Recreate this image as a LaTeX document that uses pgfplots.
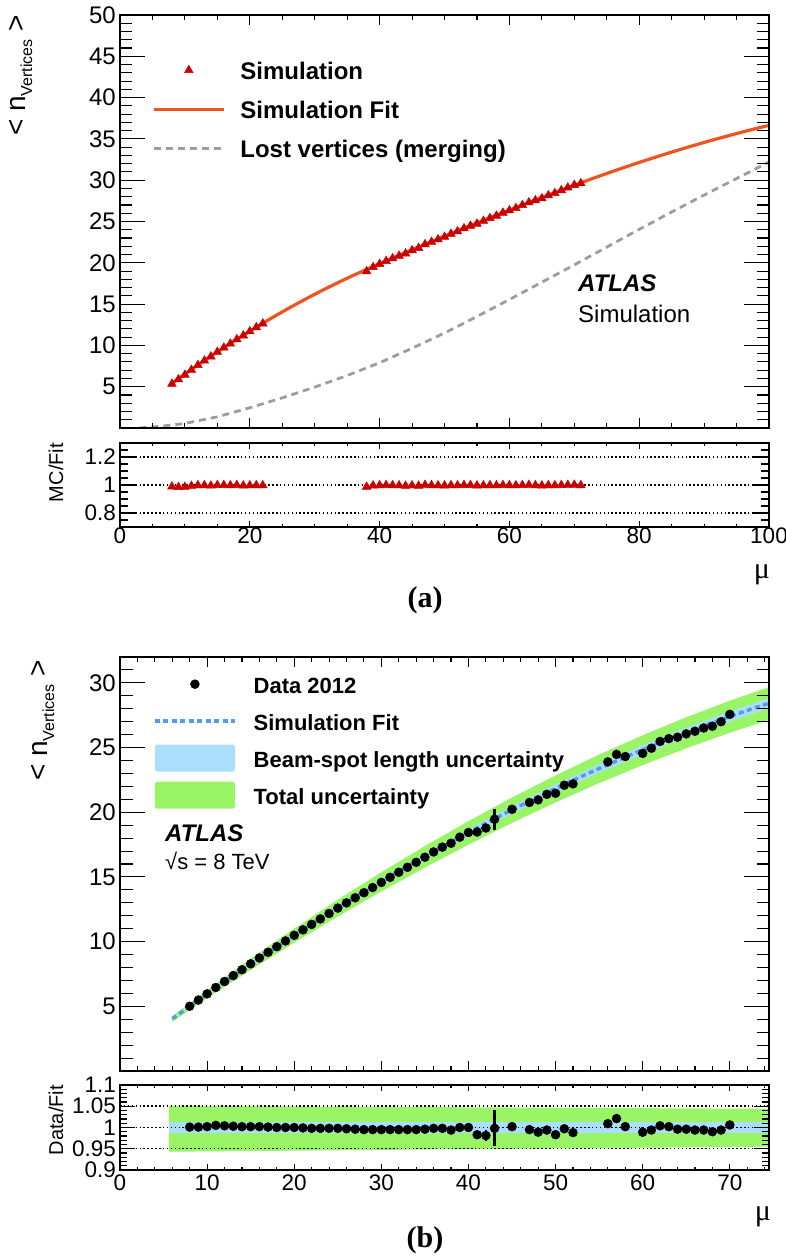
\documentclass[border=0pt]{standalone}
\usepackage{pgfplots}
\pgfplotsset{compat=1.18}
\usepackage{fontspec}
\setmainfont{Liberation Sans}
\newfontfamily\seriffont{Liberation Serif}
\definecolor{simred}{RGB}{204,0,0}
\definecolor{fitorange}{RGB}{240,84,30}
\definecolor{lostgray}{RGB}{150,160,160}
\definecolor{bandgreen}{RGB}{153,245,102}
\definecolor{bandblue}{RGB}{170,222,250}
\definecolor{fitblue}{RGB}{85,155,230}
\newcommand\fs[1]{\fontsize{#1}{#1}\selectfont}
\pgfplotsset{
  rootax/.style={
    scale only axis, axis on top,
    axis line style={line width=1.6pt},
    tick style={line width=1.1pt, black},
    tick align=inside,
    /pgf/number format/assume math mode=true,
    tick label style={inner sep=0pt},
    xticklabel style={anchor=north},
    yticklabel style={anchor=east, xshift=-4pt},
  },
  tl/.style args={#1/#2/#3/#4}{
    every major x tick/.append style={/pgfplots/major tick length=#1},
    every minor x tick/.append style={/pgfplots/minor tick length=#2},
    every major y tick/.append style={/pgfplots/major tick length=#3},
    every minor y tick/.append style={/pgfplots/minor tick length=#4},
  },
  legmarkA/.style={legend image code/.code={\draw[##1] plot coordinates {(35pt,0pt)};}},
  leglineA/.style={legend image code/.code={\draw[##1] (0pt,0pt) -- (70pt,0pt);}},
  legmarkB/.style={legend image code/.code={\draw[##1] plot coordinates {(40pt,0pt)};}},
  leglineB/.style={legend image code/.code={\draw[##1] (0pt,0pt) -- (80pt,0pt);}},
  legboxB/.style={legend image code/.code={\path[##1, rounded corners=2.5pt] (0pt,-13.5pt) rectangle (80pt,13.5pt);}},
  dotline/.style={black, line width=1.5pt, dash pattern=on 1.5pt off 2.4pt},
  databars/.style={only marks, mark=*, mark size=4.5pt, black,
    error bars/y dir=both, error bars/y explicit, error bars/error mark=none,
    error bars/error bar style={line width=2.6pt, black, solid}},
}
\begin{document}
\begin{tikzpicture}
\path[use as bounding box] (0pt,0pt) rectangle (786pt,1258pt);

% ---------------- Panel (a) main ----------------
\begin{axis}[rootax, tl={10pt/5pt/25pt/12.5pt},
  at={(120pt,830pt)}, anchor=south west, width=649pt, height=413pt,
  xmin=0, xmax=100, ymin=0, ymax=50,
  xtick={0,20,40,60,80,100}, xticklabels={}, minor xtick={0,5,...,100},
  ytick={5,10,15,20,25,30,35,40,45,50}, yticklabels={5,10,15,20,25,30,35,40,45,50},
  minor ytick={0,1,...,50},
  yticklabel style={font=\fs{24}},
  legend style={draw=none, fill=none, at={(0.0493,0.8995)}, anchor=north west,
    inner sep=0pt, column sep=15pt, row sep=12pt, font=\fs{24}\bfseries,
    nodes={inner sep=0pt, text height=22.5pt, text depth=4.5pt}},
  legend cell align=left,
]
\addlegendimage{only marks, mark=triangle*, mark size=5pt, color=simred, mark options={line width=0.5pt}, legmarkA}
\addlegendentry{Simulation}
\addlegendimage{fitorange, line width=3.2pt, leglineA}
\addlegendentry{Simulation Fit}
\addlegendimage{lostgray, line width=2.8pt, dash pattern=on 7pt off 5pt, leglineA}
\addlegendentry{Lost vertices (merging)}

\addplot[forget plot, lostgray, line width=2.8pt, dash pattern=on 7pt off 5pt] coordinates {
(3,0)(5,0.12)(8,0.35)(10,0.55)(15,1.35)(20,2.45)(25,3.65)(30,4.95)(35,6.35)(40,7.9)(45,9.65)(50,11.5)(55,13.5)(60,15.55)(65,17.65)(70,19.75)(75,21.9)(80,24.05)(85,26.15)(90,28.2)(95,30.2)(100,32.2)};
\addplot[forget plot, fitorange, line width=3.2pt] coordinates {
(8,5.400)(10,6.526)(12,7.623)(14,8.692)(16,9.732)(18,10.743)(20,11.726)(22,12.680)(24,13.604)(26,14.497)(28,15.359)(30,16.190)(32,16.989)(34,17.758)(36,18.494)(38,19.200)(40,19.887)(42,20.567)(44,21.240)(46,21.907)(48,22.567)(50,23.220)(52,23.867)(54,24.507)(56,25.140)(58,25.767)(60,26.387)(62,27.000)(64,27.607)(66,28.207)(68,28.800)(70,29.387)(71,29.678)(73,30.253)(75,30.812)(77,31.358)(80,32.150)(82,32.661)(85,33.402)(87,33.879)(90,34.568)(92,35.010)(95,35.647)(97,36.055)(100,36.640)};
\addplot[forget plot, only marks, mark=triangle*, mark size=5pt, color=simred, mark options={line width=0.5pt}] coordinates {
(8,5.335)(9,5.877)(10,6.435)(11,7.028)(12,7.608)(13,8.145)(14,8.649)(15,9.206)(16,9.722)(17,10.210)(18,10.732)(19,11.193)(20,11.691)(21,12.183)(22,12.642)
(38,18.950)(39,19.466)(40,19.847)(41,20.208)(42,20.526)(43,20.841)(44,21.113)(45,21.509)(46,21.776)(47,22.238)(48,22.522)(49,22.825)(50,23.127)(51,23.497)(52,23.795)(53,24.164)(54,24.482)(55,24.725)(56,25.065)(57,25.403)(58,25.690)(59,26.051)(60,26.334)(61,26.614)(62,26.973)(63,27.304)(64,27.552)(65,27.796)(66,28.151)(67,28.419)(68,28.771)(69,29.094)(70,29.416)(71,29.619)};
\end{axis}

% ---------------- Panel (a) ratio ----------------
\begin{axis}[rootax, tl={6pt/3pt/16pt/8pt},
  at={(120pt,731pt)}, anchor=south west, width=649pt, height=84pt,
  xmin=0, xmax=100, ymin=0.7, ymax=1.3,
  xtick={0,20,40,60,80,100}, xticklabels={0,20,40,60,80,100}, minor xtick={0,5,...,100},
  ytick={0.8,1,1.2}, yticklabels={0.8,1,1.2},
  minor ytick={0.75,0.85,0.9,0.95,1.05,1.1,1.15,1.25},
  tick label style={font=\fs{22.5}}, xticklabel style={yshift=-1pt},
]
\addplot[dotline] coordinates {(0,0.8)(100,0.8)};
\addplot[dotline] coordinates {(0,1)(100,1)};
\addplot[dotline] coordinates {(0,1.2)(100,1.2)};
\addplot[only marks, mark=triangle*, mark size=5pt, color=simred, mark options={line width=0.5pt}] coordinates {
(8,0.988)(9,0.985)(10,0.986)(11,0.993)(12,0.998)(13,0.998)(14,0.995)(15,0.999)(16,0.999)(17,0.997)(18,0.999)(19,0.996)(20,0.997)(21,0.998)(22,0.997)
(38,0.987)(39,0.996)(40,0.998)(41,0.999)(42,0.998)(43,0.997)(44,0.994)(45,0.997)(46,0.994)(47,1.000)(48,0.998)(49,0.997)(50,0.996)(51,0.998)(52,0.997)(53,0.999)(54,0.999)(55,0.996)(56,0.997)(57,0.998)(58,0.997)(59,0.999)(60,0.998)(61,0.997)(62,0.999)(63,1.000)(64,0.998)(65,0.996)(66,0.998)(67,0.997)(68,0.999)(69,1.000)(70,1.001)(71,0.998)};
\end{axis}

% ---------------- Panel (b) main ----------------
\begin{axis}[rootax, tl={10pt/5pt/25pt/12.5pt},
  at={(120pt,187pt)}, anchor=south west, width=649pt, height=414pt,
  xmin=0, xmax=74.5, ymin=0, ymax=32,
  xtick={0,10,...,70}, xticklabels={}, minor xtick={0,2,...,74},
  ytick={5,10,15,20,25,30}, yticklabels={5,10,15,20,25,30},
  minor ytick={0,1,...,32},
  yticklabel style={font=\fs{24}},
  legend style={draw=none, fill=none, at={(0.0508,0.9674)}, anchor=north west,
    inner sep=0pt, column sep=17pt, row sep=10pt, font=\fs{22}\bfseries,
    nodes={inner sep=0pt, text height=22.5pt, text depth=4.5pt}},
  legend cell align=left,
]
\addlegendimage{only marks, mark=*, mark size=4.5pt, black, legmarkB}
\addlegendentry{Data 2012}
\addlegendimage{fitblue, line width=3.5pt, dash pattern=on 5pt off 3.5pt, leglineB}
\addlegendentry{Simulation Fit}
\addlegendimage{draw=none, fill=bandblue, legboxB}
\addlegendentry{Beam-spot length uncertainty}
\addlegendimage{draw=none, fill=bandgreen, legboxB}
\addlegendentry{Total uncertainty}

\addplot[forget plot, fill=bandgreen, draw=none] coordinates {
(6,4.239)(10,6.253)(15,8.681)(20,11.008)(25,13.235)(30,15.361)(35,17.386)(40,19.311)(45,21.137)(50,22.851)(55,24.457)(60,25.953)(65,27.341)(70,28.621)(74.5,29.679)
(74.5,27.149)(70,26.147)(65,24.942)(60,23.645)(55,22.249)(50,20.759)(45,19.177)(40,17.495)(35,15.729)(30,13.878)(25,11.941)(20,9.917)(15,7.810)(10,5.618)(6,3.803)};
\addplot[forget plot, fill=bandblue, draw=none] coordinates {
(6,4.089)(10,6.035)(15,8.384)(20,10.636)(25,12.794)(30,14.855)(35,16.822)(40,18.693)(45,20.471)(50,22.142)(55,23.708)(60,25.172)(65,26.530)(70,27.786)(74.5,28.826)
(74.5,28.030)(70,27.018)(65,25.798)(60,24.476)(55,23.054)(50,21.530)(45,19.905)(40,18.177)(35,16.358)(30,14.445)(25,12.440)(20,10.342)(15,8.152)(10,5.869)(6,3.977)};
\addplot[forget plot, databars] coordinates {
(8,5.005)(9,5.483)(10,5.964)(11,6.455)(12,6.918)(13,7.375)(14,7.828)(15,8.285)(16,8.737)(17,9.177)(18,9.612)(19,10.053)(20,10.489)(21,10.911)(22,11.329)(23,11.753)(24,12.175)(25,12.592)(26,12.992)(27,13.387)(28,13.779)(29,14.180)(30,14.577)(31,14.971)(32,15.360)(33,15.746)(34,16.128)(35,16.524)(36,16.932)(37,17.304)(38,17.602)(39,18.073)(40,18.435)
(41,18.474) +- (0,0.09)
(42,18.783) +- (0,0.23)
(43,19.458) +- (0,0.82)
(45,20.228)(47,20.755)(48,20.956)(49,21.385)(50,21.465)(51,22.087)(52,22.196)(56,23.891)(57,24.473)(58,24.308)
(60,24.551) +- (0,0.30)
(61,24.949)(62,25.473)(63,25.691)(64,25.800)(65,26.059)(66,26.261)(67,26.511)(68,26.650)(69,26.999)(70,27.566)};
\addplot[forget plot, fitblue, line width=3.5pt, dash pattern=on 5pt off 3.5pt] coordinates {
(6,4.033)(8,5.000)(10,5.952)(12,6.890)(14,7.812)(16,8.720)(18,9.612)(20,10.489)(22,11.352)(24,12.199)(26,13.031)(28,13.848)(30,14.650)(32,15.437)(34,16.209)(36,16.966)(38,17.708)(40,18.435)(42,19.147)(43,19.497)(45,20.188)(47,20.859)(49,21.514)(51,22.153)(53,22.775)(55,23.381)(57,23.970)(59,24.543)(61,25.100)(63,25.640)(65,26.164)(67,26.671)(69,27.162)(71,27.637)(73,28.095)(74.5,28.428)};
\end{axis}

% ---------------- Panel (b) ratio ----------------
\begin{axis}[rootax, tl={6pt/3pt/15pt/7pt},
  at={(120pt,88pt)}, anchor=south west, width=649pt, height=85pt,
  xmin=0, xmax=74.5, ymin=0.9, ymax=1.1,
  xtick={0,10,...,70}, xticklabels={0,10,20,30,40,50,60,70}, minor xtick={0,2,...,74},
  ytick={0.9,0.95,1,1.05,1.1}, yticklabels={0.9,0.95,1,1.05,1.1},
  minor ytick={0.91,0.92,0.93,0.94,0.96,0.97,0.98,0.99,1.01,1.02,1.03,1.04,1.06,1.07,1.08,1.09},
  tick label style={font=\fs{22.5}}, xticklabel style={yshift=-5pt},
]
\addplot[fill=bandgreen, draw=none] coordinates {(5.6,1.051)(74.5,1.044)(74.5,0.955)(5.6,0.943)};
\addplot[fill=bandblue, draw=none] coordinates {(5.6,1.014)(74.5,1.014)(74.5,0.986)(5.6,0.986)};
\addplot[dotline] coordinates {(0,0.95)(74.5,0.95)};
\addplot[dotline] coordinates {(0,1)(74.5,1)};
\addplot[dotline] coordinates {(0,1.05)(74.5,1.05)};
\addplot[databars] coordinates {
(8,1.001)(9,1.001)(10,1.002)(11,1.005)(12,1.004)(13,1.003)(14,1.002)(15,1.002)(16,1.002)(17,1.001)(18,1.000)(19,1.000)(20,1.000)(21,0.999)(22,0.998)(23,0.998)(24,0.998)(25,0.998)(26,0.997)(27,0.996)(28,0.995)(29,0.995)(30,0.995)(31,0.995)(32,0.995)(33,0.995)(34,0.995)(35,0.996)(36,0.998)(37,0.998)(38,0.994)(39,1.000)(40,1.000)
(41,0.983) +- (0,0.005)
(42,0.981) +- (0,0.012)
(43,0.998) +- (0,0.042)
(45,1.002)(47,0.995)(48,0.989)(49,0.994)(50,0.983)(51,0.997)(52,0.988)(56,1.009)(57,1.021)(58,1.002)
(60,0.989) +- (0,0.012)
(61,0.994)(62,1.004)(63,1.002)(64,0.996)(65,0.996)(66,0.994)(67,0.994)(68,0.990)(69,0.994)(70,1.006)};
\end{axis}

% ---------------- Texts ----------------
\node[rotate=90, anchor=base east, inner sep=0pt] at (25pt,1243pt) {\fs{28}<~n\raisebox{-7pt}{\fs{16}Vertices}~>};
\node[rotate=90, anchor=base east, inner sep=0pt] at (47pt,598pt) {\fs{28}<~n\raisebox{-7pt}{\fs{16}Vertices}~>};
\node[rotate=90, anchor=base east, inner sep=0pt] at (63pt,815pt) {\fs{20}MC/Fit};
\node[rotate=90, anchor=base east, inner sep=0pt] at (63pt,173pt) {\fs{20}Data/Fit};
\node[inner sep=0pt] at (762pt,683pt) {\seriffont\fs{30}μ};
\node[inner sep=0pt] at (763pt,41pt) {\seriffont\fs{30}μ};
\node[inner sep=0pt] at (425pt,658pt) {\seriffont\bfseries\fs{30}(a)};
\node[inner sep=0pt] at (425pt,18pt) {\seriffont\bfseries\fs{30}(b)};
\node[anchor=base west, inner sep=0pt] at (578pt,966pt) {\fs{24}\bfseries\itshape ATLAS};
\node[anchor=base west, inner sep=0pt] at (578pt,935pt) {\fs{24}Simulation};
\node[anchor=base west, inner sep=0pt] at (165pt,416pt) {\fs{24}\bfseries\itshape ATLAS};
\node[anchor=base west, inner sep=0pt] at (165pt,388pt) {\fs{22}√s = 8 TeV};
\end{tikzpicture}
\end{document}
